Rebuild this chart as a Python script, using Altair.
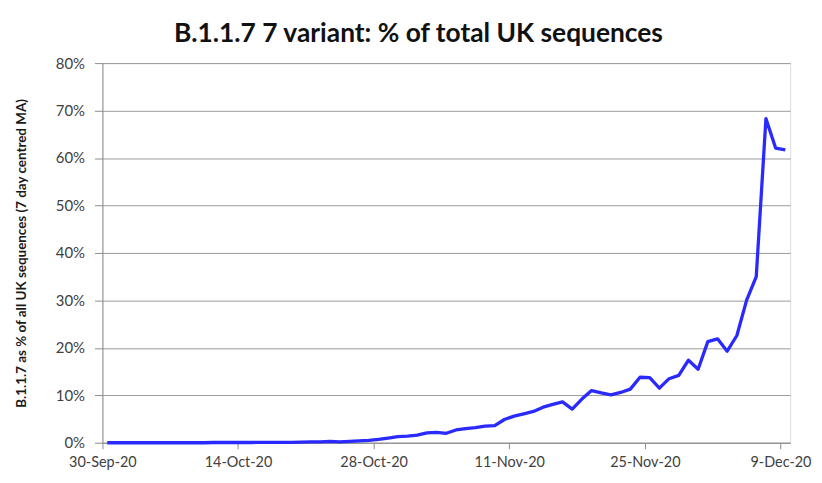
import altair as alt
import pandas as pd

start_date = "2020-09-30"
n_days = 71
# B.1.1.7 share of UK sequences (%), daily, 30-Sep-20 .. 9-Dec-20
values = [
    0.0, 0.0, 0.0, 0.0, 0.0, 0.0, 0.0, 0.0, 0.0, 0.0,
    0.0, 0.05, 0.05, 0.05, 0.05, 0.05, 0.1, 0.1, 0.1, 0.1,
    0.15, 0.2, 0.2, 0.3, 0.2, 0.3, 0.4, 0.5, 0.7, 1.0,
    1.3, 1.4, 1.6, 2.1, 2.2, 2.0, 2.7, 3.0, 3.2, 3.5,
    3.6, 4.9, 5.6, 6.1, 6.6, 7.5, 8.1, 8.6, 7.1, 9.2,
    11.0, 10.5, 10.1, 10.6, 11.3, 13.8, 13.7, 11.5, 13.5, 14.2,
    17.4, 15.5, 21.3, 21.9, 19.3, 22.6, 30.0, 35.0, 68.3, 62.1,
    61.7,
]
tick_dates = ["2020-09-30", "2020-10-14", "2020-10-28", "2020-11-11", "2020-11-25", "2020-12-09"]
y_ticks = [0, 10, 20, 30, 40, 50, 60, 70, 80]

title_text = "B.1.1.7 7 variant: % of total UK sequences"
y_title = "B.1.1.7 as % of all UK sequences (7 day centred MA)"

dates = pd.date_range(start_date, periods=n_days, freq="D") + pd.Timedelta(hours=12)
df = pd.DataFrame({"date": dates.strftime("%Y-%m-%dT%H:%M:%S"), "pct": [v / 100 for v in values]})

def dt(s):
    y, m, d = (int(p) for p in s.split("-"))
    return alt.DateTime(year=y, month=m, date=d)

font = "Lato"
grey_text = "#404040"

chart = alt.Chart(df).mark_line(color="#2a2aff", strokeWidth=3.3, strokeJoin="round").encode(
    x=alt.X(
        "date:T",
        scale=alt.Scale(domain=[dt("2020-09-30"), dt("2020-12-10")]),
        axis=alt.Axis(
            title=None,
            values=[dt(s) for s in tick_dates],
            format="%-d-%b-%y",
            grid=False,
            domainColor="#8c8c8c",
            tickColor="#8c8c8c",
            tickSize=6,
            labelPadding=7,
            labelFont=font,
            labelFontSize=14.5,
            labelColor=grey_text,
            labelOverlap=False,
            labelFlush=False,
        ),
    ),
    y=alt.Y(
        "pct:Q",
        scale=alt.Scale(domain=[0, 0.8], nice=False),
        axis=alt.Axis(
            title=y_title,
            values=[v / 100 for v in y_ticks],
            format=".0%",
            grid=True,
            gridColor="#9a9a9a",
            gridWidth=1,
            domainColor="#8c8c8c",
            tickColor="#8c8c8c",
            tickSize=8,
            labelPadding=10,
            labelFont=font,
            labelFontSize=15,
            labelColor=grey_text,
            titleFont=font,
            titleFontSize=13.5,
            titleFontWeight="bold",
            titleColor="#1a1a1a",
            titleAngle=-90,
            titleX=-81,
            titleY=191,
            titleAlign="center",
            titleBaseline="middle",
        ),
    ),
).properties(
    width=692,
    height=382,
    title=alt.TitleParams(
        text=title_text,
        font=font,
        fontSize=26.5,
        fontWeight="bold",
        color="#111111",
        anchor="middle",
        dx=-28,
        offset=9,
    ),
    autosize=alt.AutoSizeParams(type="none"),
    padding={"left": 95, "top": 54, "right": 24, "bottom": 30},
).configure_view(stroke=None).configure(background="white")

chart.save("out.html", embed_options={"renderer": "svg", "actions": False})
